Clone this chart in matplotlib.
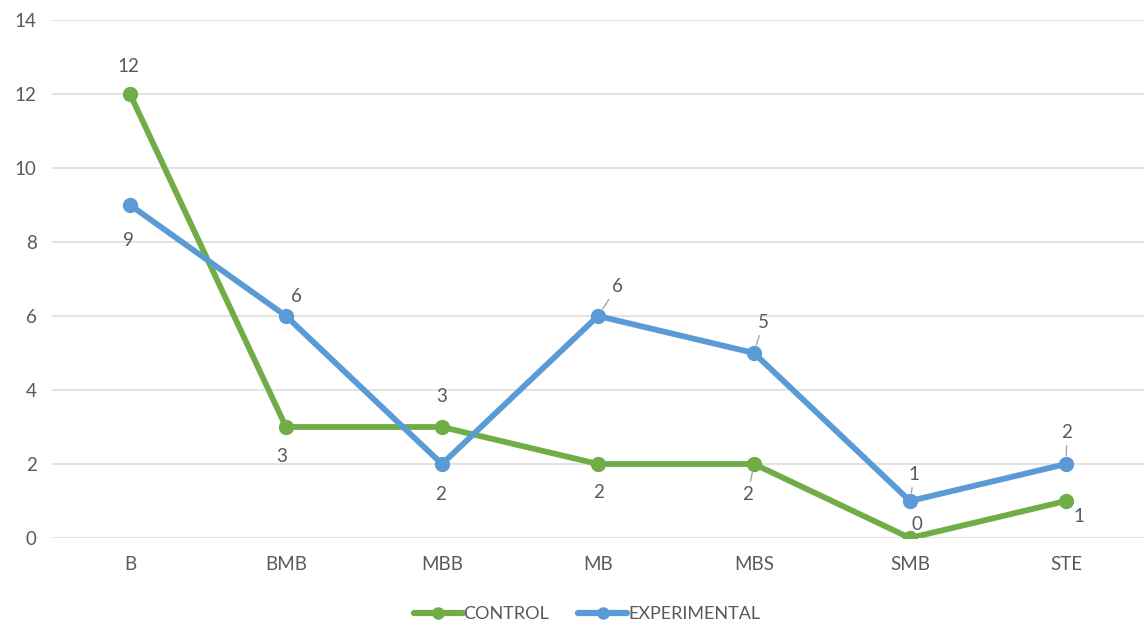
import matplotlib
matplotlib.use("Agg")
import matplotlib.pyplot as plt

categories = ["B", "BMB", "MBB", "MB", "MBS", "SMB", "STE"]
control = [12, 3, 3, 2, 2, 0, 1]
experimental = [9, 6, 2, 6, 5, 1, 2]

# label offsets (pixels) and whether a leader line is drawn
control_offsets = [(-2, 28), (-4, -30), (0, 30), (1, -29), (-6, -30), (7, 13), (13, -16)]
control_leaders = [False, False, False, False, True, False, False]
experimental_offsets = [(-2, -35), (10, 20), (-1, -30), (19, 29), (9, 30), (4, 26), (1, 31)]
experimental_leaders = [False, False, False, True, True, True, True]

GREEN = "#70AD47"
BLUE = "#5B9BD5"
TEXT = "#595959"

plt.rcParams["font.family"] = ["Lato", "DejaVu Sans"]

fig = plt.figure(figsize=(11.44, 6.28), dpi=100)
ax = fig.add_axes([52 / 1144, 1 - 538 / 628, 1092 / 1144, (538 - 20) / 628])

x = list(range(len(categories)))
ax.plot(x, control, color=GREEN, lw=4.2, marker="o", ms=10, label="CONTROL",
        solid_capstyle="round", zorder=3)
ax.plot(x, experimental, color=BLUE, lw=4.2, marker="o", ms=10, label="EXPERIMENTAL",
        solid_capstyle="round", zorder=3)


def label(values, offsets, leaders):
    for xi, v, (dx, dy), lead in zip(x, values, offsets, leaders):
        kw = {}
        if lead:
            kw["arrowprops"] = dict(arrowstyle="-", color="#A6A6A6", lw=1.0,
                                    shrinkA=1, shrinkB=6)
        ax.annotate(str(v), (xi, v), xytext=(dx, dy), textcoords="offset pixels",
                    ha="center", va="center", fontsize=13.5, color=TEXT, zorder=4, **kw)


label(control, control_offsets, control_leaders)
label(experimental, experimental_offsets, experimental_leaders)

ax.set_xlim(-0.5, len(categories) - 0.5)
ax.set_ylim(0, 14)
ax.set_yticks(range(0, 15, 2))
ax.set_xticks(x)
ax.set_xticklabels(categories)
ax.tick_params(axis="both", length=0, labelsize=13.5, labelcolor=TEXT)
ax.tick_params(axis="x", pad=13)
ax.tick_params(axis="y", pad=11)
ax.grid(axis="y", color="#E3E3E3", lw=1.4)
ax.set_axisbelow(True)
for s in ax.spines.values():
    s.set_visible(False)

leg = fig.legend(loc="center", bbox_to_anchor=(587 / 1144, 1 - 614 / 628), ncol=2,
                 frameon=False, fontsize=13, handlelength=2.7, handletextpad=0.05,
                 columnspacing=1.6, markerscale=0.8)
for line in leg.get_lines():
    line.set_linewidth(4.5)
for t in leg.get_texts():
    t.set_color(TEXT)

fig.savefig("out.png", dpi=100)
